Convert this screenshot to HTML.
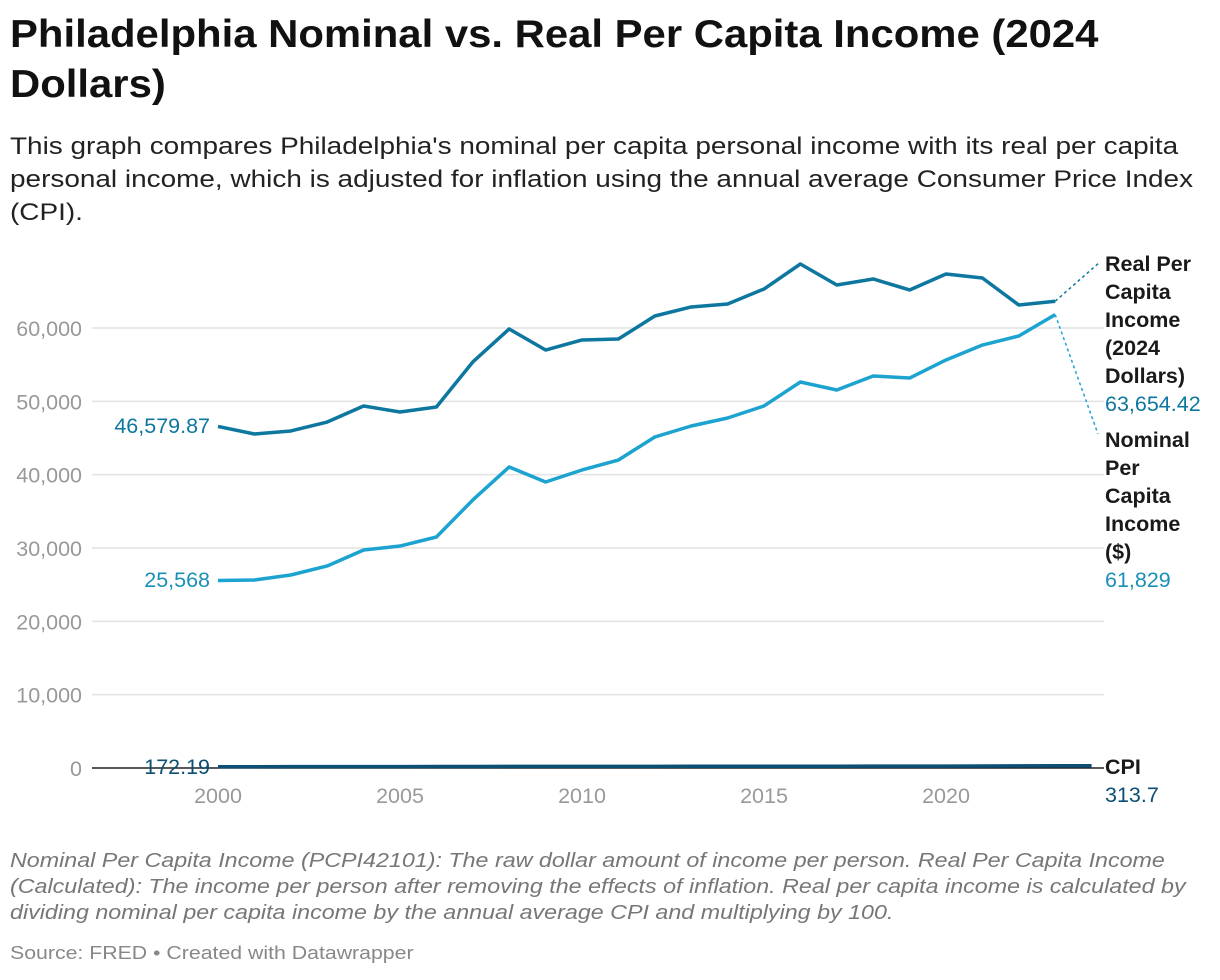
<!DOCTYPE html>
<html><head><meta charset="utf-8"><style>
body{margin:0;background:#fff;width:1220px;height:980px;overflow:hidden;font-family:"Liberation Sans",sans-serif;}
h1{position:absolute;left:10px;top:10px;margin:0;font-size:39px;line-height:50px;font-weight:bold;color:#111;white-space:nowrap;transform:scaleX(1.073);transform-origin:0 0}
.sub{position:absolute;left:10px;top:130px;font-size:24.5px;line-height:33px;color:#222;white-space:nowrap;transform:scaleX(1.14);transform-origin:0 0}
.notes{position:absolute;left:10px;top:848px;font-size:20.5px;line-height:26px;color:#777;font-style:italic;white-space:nowrap;transform:scaleX(1.135);transform-origin:0 0}
.src{position:absolute;left:10px;top:942px;font-size:18.5px;color:#888;transform:scaleX(1.15);transform-origin:0 0;white-space:nowrap}
svg{position:absolute;left:0;top:0}
</style></head><body>
<h1>Philadelphia Nominal vs. Real Per Capita Income (2024<br>Dollars)</h1>
<div class="sub">This graph compares Philadelphia's nominal per capita personal income with its real per capita<br>personal income, which is adjusted for inflation using the annual average Consumer Price Index<br>(CPI).</div>
<svg id="c" width="1220" height="980"></svg>
<div class="notes">Nominal Per Capita Income (PCPI42101): The raw dollar amount of income per person. Real Per Capita Income<br>(Calculated): The income per person after removing the effects of inflation. Real per capita income is calculated by<br>dividing nominal per capita income by the annual average CPI and multiplying by 100.</div>
<div class="src">Source: FRED • Created with Datawrapper</div>
<script>
const years=[2000,2001,2002,2003,2004,2005,2006,2007,2008,2009,2010,2011,2012,2013,2014,2015,2016,2017,2018,2019,2020,2021,2022,2023];
const realIncome=[46579.87,45550,45960,47180,49370,48550,49230,55370,59870,57000,58370,58500,61640,62870,63280,65320,68730,65870,66690,65190,67370,66820,63140,63654.42];
const nominalIncome=[25568,25640,26320,27550,29730,30270,31500,36550,41050,39000,40640,42000,45140,46640,47730,49370,52640,51550,53460,53180,55640,57680,58910,61829];
const cpiYears=[2000,2001,2002,2003,2004,2005,2006,2007,2008,2009,2010,2011,2012,2013,2014,2015,2016,2017,2018,2019,2020,2021,2022,2023,2024];
const cpi=[172.19,177.1,179.9,184,188.9,195.3,201.6,207.3,215.3,214.5,218.1,224.9,229.6,233,236.7,237,240,245.1,251.1,255.7,258.8,271,292.7,304.7,313.7];
const yTicks=[0,10000,20000,30000,40000,50000,60000];
const xTicks=[2000,2005,2010,2015,2020];
const NS="http://www.w3.org/2000/svg",svg=document.getElementById('c');
const X=y=>218+(y-2000)*36.4;
const Y=v=>768-v/10000*73.33;
function el(t,a,txt){const e=document.createElementNS(NS,t);for(const k in a)e.setAttribute(k,a[k]);if(txt!=null)e.textContent=txt;svg.appendChild(e);return e;}
yTicks.forEach(v=>{
 if(v>0){const g=el('line',{x1:92,x2:1104,y1:Y(v),y2:Y(v),stroke:'#e2e2e2','stroke-width':1.5});
 
 }
 const t=el('text',{x:82,y:Y(v)+8,'text-anchor':'end','font-size':21.5,fill:'#999','font-family':'Liberation Sans, sans-serif'},v.toLocaleString('en-US'));
 
 
});
xTicks.forEach(y=>{
 const t=el('text',{x:X(y),y:803,'text-anchor':'middle','font-size':21.5,fill:'#999','font-family':'Liberation Sans, sans-serif'},y);
 
 
});
function line(xs,vs,col,w,name){
 const p=el('polyline',{points:xs.map((y,i)=>X(y)+','+Y(vs[i])).join(' '),fill:'none',stroke:col,'stroke-width':w,'stroke-linejoin':'round'});
 
 
}
line(years,realIncome,'#0d77a0',3.5,'real-income-line');
line(years,nominalIncome,'#1ca3d0',3.5,'nominal-income-line');
const base=el('line',{x1:92,x2:1104,y1:Y(0),y2:Y(0),stroke:'#222','stroke-width':1.5});


line(cpiYears,cpi,'#0b4f75',3.5,'cpi-line');
const lr=years.length-1;
const c1=el('line',{x1:X(2023),y1:Y(realIncome[lr]),x2:1100,y2:262,stroke:'#0d77a0','stroke-width':1.5,'stroke-dasharray':'3,3'});


const c2=el('line',{x1:X(2023),y1:Y(nominalIncome[lr]),x2:1098,y2:434,stroke:'#1ca3d0','stroke-width':1.5,'stroke-dasharray':'3,3'});


function txt(x,y,s,col,bold,anchor,name){
 const t=el('text',{x:x,y:y,'font-size':21.5,fill:col,'font-weight':bold?'bold':'normal','text-anchor':anchor||'start','font-family':'Liberation Sans, sans-serif'},s);
 
 
}
['Real Per','Capita','Income','(2024','Dollars)'].forEach((s,i)=>txt(1105,271+i*28,s,'#1a1a1a',true,'start','real-series-label'));
txt(1105,411,realIncome[lr].toLocaleString('en-US',{minimumFractionDigits:2}),'#0d77a0',false,'start','real-end-value');
['Nominal','Per','Capita','Income','($)'].forEach((s,i)=>txt(1105,447+i*28,s,'#1a1a1a',true,'start','nominal-series-label'));
txt(1105,587,nominalIncome[lr].toLocaleString('en-US'),'#1a8fb8',false,'start','nominal-end-value');
txt(1105,774,'CPI','#1a1a1a',true,'start','cpi-series-label');
txt(1105,802,String(cpi[cpi.length-1]),'#0b4f75',false,'start','cpi-end-value');
txt(210,433,realIncome[0].toLocaleString('en-US',{minimumFractionDigits:2}),'#0d77a0',false,'end','real-start-value');
txt(210,587,nominalIncome[0].toLocaleString('en-US'),'#1a8fb8',false,'end','nominal-start-value');
txt(210,774,String(cpi[0]),'#0b4f75',false,'end','cpi-start-value');
</script>
</body></html>
